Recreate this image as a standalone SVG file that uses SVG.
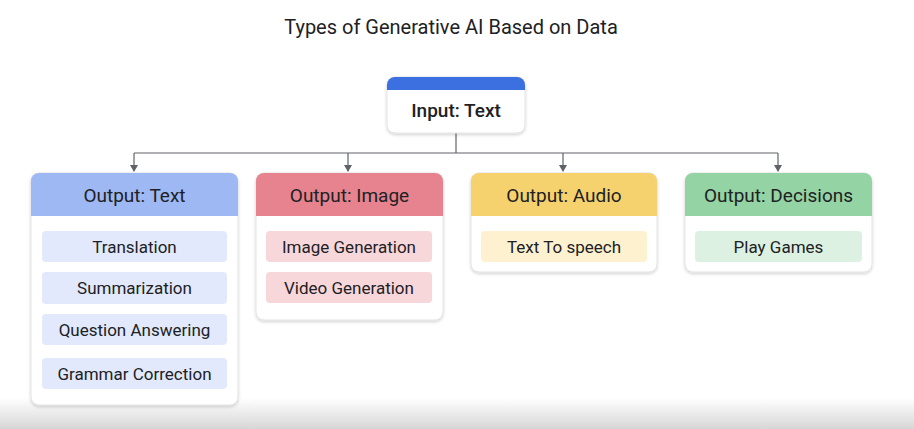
<svg xmlns="http://www.w3.org/2000/svg" width="914" height="429" viewBox="0 0 914 429">
<defs>
<linearGradient id="floor" x1="0" y1="0" x2="0" y2="1">
<stop offset="0" stop-color="#ffffff"/>
<stop offset="1" stop-color="#d6d6d6"/>
</linearGradient>
<filter id="sh" x="-10%" y="-10%" width="120%" height="130%">
<feDropShadow dx="0" dy="1.5" stdDeviation="1.5" flood-color="#000" flood-opacity="0.18"/>
</filter>
<marker id="arr" markerWidth="8" markerHeight="8" refX="6" refY="4" orient="auto" markerUnits="userSpaceOnUse">
<path d="M0,0 L7,4 L0,8 z" fill="#5f6368"/>
</marker>
<style>
.card{fill:#ffffff;stroke:#e3e3e3;stroke-width:1;filter:url(#sh)}
.t{font-family:Roboto,"Liberation Sans",sans-serif;fill:#202124;text-anchor:middle}
.h{font-size:19px}
.i{font-size:17px}
.ln{fill:none;stroke:#5f6368;stroke-width:1.2}
</style>
</defs>
<rect x="0" y="0" width="914" height="429" fill="#ffffff"/>
<rect x="0" y="398" width="914" height="31" fill="url(#floor)"/>
<text x="451" y="34" class="t" style="font-size:20px">Types of Generative AI Based on Data</text>

<g id="connectors">
<path class="ln" d="M456,133 V153"/>
<path class="ln" d="M134,153 H778"/>
<path class="ln" d="M134,153 V171" marker-end="url(#arr)"/>
<path class="ln" d="M348,153 V171" marker-end="url(#arr)"/>
<path class="ln" d="M563,153 V171" marker-end="url(#arr)"/>
<path class="ln" d="M778,153 V171" marker-end="url(#arr)"/>
</g>

<g id="input-text">
<rect class="card" x="387" y="77" width="138" height="56" rx="8"/>
<path d="M387,90 V85 A8,8 0 0 1 395,77 H517 A8,8 0 0 1 525,85 V90 Z" fill="#3c6fe0"/>
<text x="456" y="117" class="t h" style="font-weight:500">Input: Text</text>
</g>

<g id="output-text">
<rect class="card" x="31" y="173" width="207" height="232" rx="8"/>
<path d="M31,216 V181 A8,8 0 0 1 39,173 H230 A8,8 0 0 1 238,181 V216 Z" fill="#9eb8f4"/>
<text x="134.5" y="202" class="t h">Output: Text</text>
<rect x="42" y="231" width="185" height="31" rx="4" fill="#e2e9fc"/>
<text x="134.5" y="252.5" class="t i">Translation</text>
<rect x="42" y="272" width="185" height="32" rx="4" fill="#e2e9fc"/>
<text x="134.5" y="294" class="t i">Summarization</text>
<rect x="42" y="314" width="185" height="31" rx="4" fill="#e2e9fc"/>
<text x="134.5" y="335.5" class="t i">Question Answering</text>
<rect x="42" y="358" width="185" height="31" rx="4" fill="#e2e9fc"/>
<text x="134.5" y="379.5" class="t i">Grammar Correction</text>
</g>

<g id="output-image">
<rect class="card" x="256" y="173" width="187" height="147" rx="8"/>
<path d="M256,216 V181 A8,8 0 0 1 264,173 H435 A8,8 0 0 1 443,181 V216 Z" fill="#e6838e"/>
<text x="349.5" y="202" class="t h">Output: Image</text>
<rect x="266" y="231" width="166" height="31" rx="4" fill="#f8d7db"/>
<text x="349" y="252.5" class="t i">Image Generation</text>
<rect x="266" y="272" width="166" height="31" rx="4" fill="#f8d7db"/>
<text x="349" y="293.5" class="t i">Video Generation</text>
</g>

<g id="output-audio">
<rect class="card" x="471" y="173" width="186" height="99" rx="8"/>
<path d="M471,216 V181 A8,8 0 0 1 479,173 H649 A8,8 0 0 1 657,181 V216 Z" fill="#f6d26e"/>
<text x="564" y="202" class="t h">Output: Audio</text>
<rect x="481" y="231" width="166" height="31" rx="4" fill="#fdf1d0"/>
<text x="564" y="252.5" class="t i">Text To speech</text>
</g>

<g id="output-decisions">
<rect class="card" x="685" y="173" width="187" height="99" rx="8"/>
<path d="M685,216 V181 A8,8 0 0 1 693,173 H864 A8,8 0 0 1 872,181 V216 Z" fill="#94d3a3"/>
<text x="778.5" y="202" class="t h">Output: Decisions</text>
<rect x="695" y="231" width="167" height="31" rx="4" fill="#dcf1e2"/>
<text x="778.5" y="252.5" class="t i">Play Games</text>
</g>
</svg>
